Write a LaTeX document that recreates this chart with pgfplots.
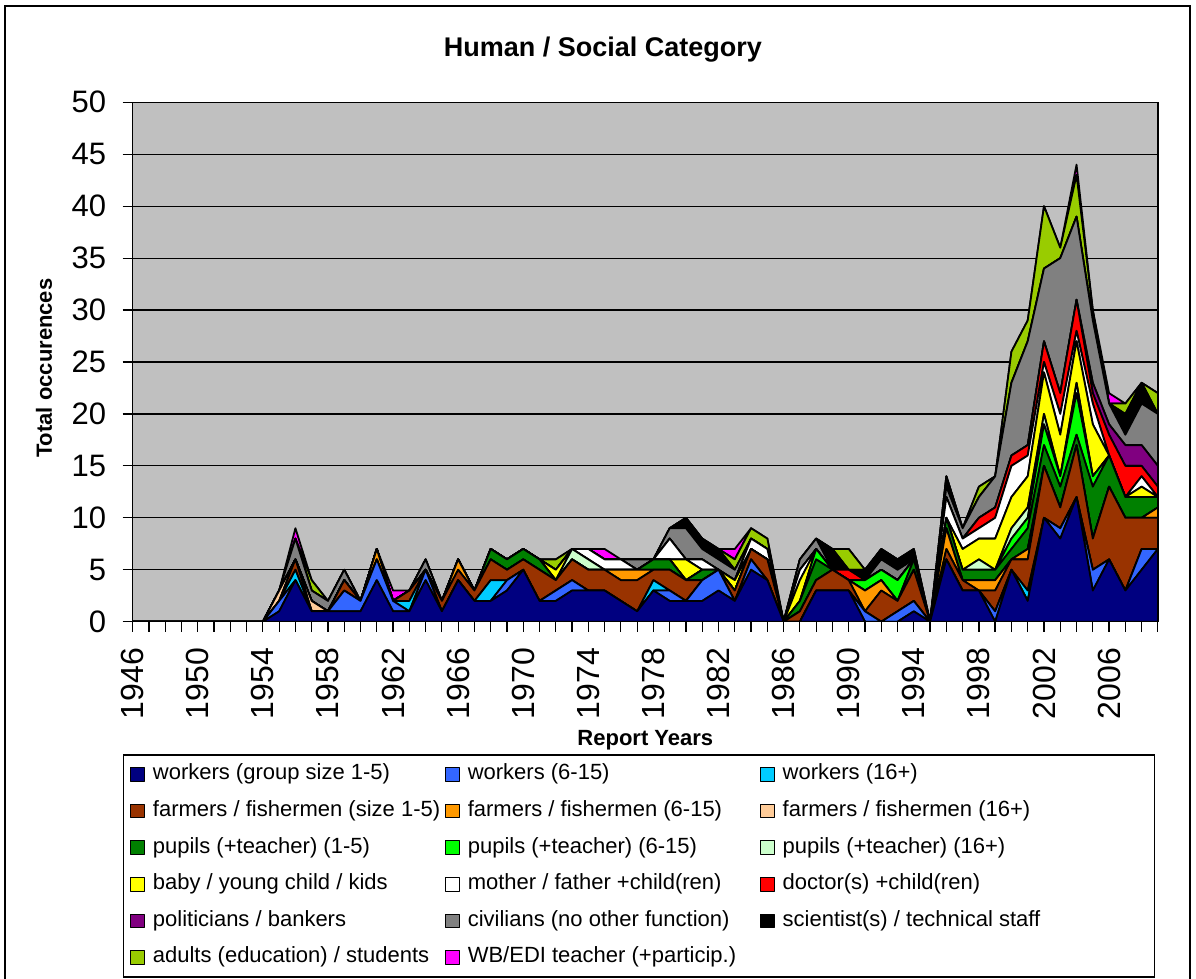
\documentclass[border=0pt]{standalone}
\usepackage{pgfplots}
\pgfplotsset{compat=1.18}
\usepackage{pgfplotstable}
\usepackage{fontspec}
\setmainfont{Liberation Sans}
\definecolor{plotgray}{HTML}{C0C0C0}
\definecolor{cA}{HTML}{000080}
\definecolor{cB}{HTML}{3366FF}
\definecolor{cC}{HTML}{00CCFF}
\definecolor{cD}{HTML}{993300}
\definecolor{cE}{HTML}{FF9900}
\definecolor{cF}{HTML}{FFCC99}
\definecolor{cG}{HTML}{008000}
\definecolor{cH}{HTML}{00FF00}
\definecolor{cI}{HTML}{CCFFCC}
\definecolor{cJ}{HTML}{FFFF00}
\definecolor{cK}{HTML}{FFFFFF}
\definecolor{cL}{HTML}{FF0000}
\definecolor{cM}{HTML}{800080}
\definecolor{cN}{HTML}{808080}
\definecolor{cO}{HTML}{000000}
\definecolor{cP}{HTML}{99CC00}
\definecolor{cQ}{HTML}{FF00FF}
\pgfplotstableread{
year a b c d e f g h i j k l m n o p q
1946 0 0 0 0 0 0 0 0 0 0 0 0 0 0 0 0 0
1947 0 0 0 0 0 0 0 0 0 0 0 0 0 0 0 0 0
1948 0 0 0 0 0 0 0 0 0 0 0 0 0 0 0 0 0
1949 0 0 0 0 0 0 0 0 0 0 0 0 0 0 0 0 0
1950 0 0 0 0 0 0 0 0 0 0 0 0 0 0 0 0 0
1951 0 0 0 0 0 0 0 0 0 0 0 0 0 0 0 0 0
1952 0 0 0 0 0 0 0 0 0 0 0 0 0 0 0 0 0
1953 0 0 0 0 0 0 0 0 0 0 0 0 0 0 0 0 0
1954 0 0 0 0 0 0 0 0 0 0 0 0 0 0 0 0 0
1955 1 1 0 0 0 1 0 0 0 0 0 0 0 0 0 0 0
1956 4 0 1 1 0 0 0 0 0 0 0 0 0 2 0 0 1
1957 1 0 0 0 0 1 0 0 0 0 0 0 0 1 0 1 0
1958 1 0 0 0 0 0 0 0 0 0 0 0 0 1 0 0 0
1959 1 2 0 1 0 0 0 0 0 0 0 0 0 1 0 0 0
1960 1 1 0 0 0 0 0 0 0 0 0 0 0 0 0 0 0
1961 4 2 0 0 1 0 0 0 0 0 0 0 0 0 0 0 0
1962 1 1 0 0 0 0 0 0 0 0 0 0 0 0 0 0 1
1963 1 0 1 1 0 0 0 0 0 0 0 0 0 0 0 0 0
1964 4 1 0 0 0 0 0 0 0 0 0 0 0 1 0 0 0
1965 1 0 0 1 0 0 0 0 0 0 0 0 0 0 0 0 0
1966 4 0 0 1 1 0 0 0 0 0 0 0 0 0 0 0 0
1967 2 0 0 1 0 0 0 0 0 0 0 0 0 0 0 0 0
1968 2 0 2 2 0 0 1 0 0 0 0 0 0 0 0 0 0
1969 3 1 0 1 0 0 1 0 0 0 0 0 0 0 0 0 0
1970 5 0 0 1 0 0 1 0 0 0 0 0 0 0 0 0 0
1971 2 0 0 3 0 0 1 0 0 0 0 0 0 0 0 0 0
1972 2 1 0 1 0 0 0 0 0 1 0 0 0 0 0 1 0
1973 3 1 0 2 0 0 0 0 1 0 0 0 0 0 0 0 0
1974 3 0 0 2 0 0 0 0 1 0 1 0 0 0 0 0 0
1975 3 0 0 2 0 0 0 0 0 0 1 0 0 0 0 0 1
1976 2 0 0 2 1 0 0 0 0 0 1 0 0 0 0 0 0
1977 1 0 0 3 1 0 0 0 0 0 0 0 0 1 0 0 0
1978 3 0 1 1 0 0 1 0 0 0 0 0 0 0 0 0 0
1979 2 1 0 2 0 0 1 0 0 0 2 0 0 1 0 0 0
1980 2 0 0 2 0 0 0 0 0 2 0 0 0 3 1 0 0
1981 2 2 0 0 0 0 1 0 0 0 1 0 0 1 1 0 0
1982 3 2 0 0 0 0 0 0 0 0 0 0 0 1 1 0 0
1983 2 0 0 1 0 0 0 0 0 1 0 0 0 1 0 1 1
1984 5 1 0 1 0 0 0 0 0 0 1 0 0 0 0 1 0
1985 4 0 0 2 0 0 0 0 0 0 1 0 0 0 0 1 0
1986 0 0 0 0 0 0 0 0 0 0 0 0 0 0 0 0 0
1987 0 0 0 1 0 0 1 0 0 2 1 0 0 1 0 0 0
1988 3 0 0 1 0 0 2 1 0 0 0 0 0 1 0 0 0
1989 3 0 0 2 0 0 0 0 0 0 0 0 0 0 2 0 0
1990 3 0 0 1 0 0 0 0 0 0 0 1 0 0 0 2 0
1991 0 1 0 0 2 0 0 1 0 0 0 0 0 0 1 0 0
1992 0 0 0 3 1 0 0 1 0 0 0 0 0 1 1 0 0
1993 0 1 0 1 0 0 0 2 0 0 0 0 0 1 1 0 0
1994 1 1 0 3 0 0 1 0 0 0 0 0 0 0 1 0 0
1995 0 0 0 0 0 0 0 0 0 0 0 0 0 0 0 0 0
1996 6 0 0 1 2 0 1 0 0 0 2 0 0 1 1 0 0
1997 3 0 0 1 0 0 1 0 0 2 1 0 0 1 0 0 0
1998 3 0 0 0 1 0 1 0 1 2 1 1 0 2 0 1 0
1999 0 1 0 2 1 0 1 0 0 3 2 1 0 3 0 0 0
2000 5 0 0 1 0 0 1 1 1 3 3 1 0 7 0 3 0
2001 2 0 1 3 1 0 2 1 1 3 2 1 0 10 0 2 0
2002 10 0 0 5 0 0 2 2 1 4 1 2 0 7 0 6 0
2003 8 1 0 2 0 0 2 1 0 4 2 2 0 13 0 1 0
2004 12 0 0 5 0 0 1 4 1 4 1 3 0 8 0 4 1
2005 3 2 0 3 0 0 5 1 0 5 2 1 1 6 0 1 0
2006 6 0 0 7 0 0 3 0 0 0 0 2 1 2 0 0 1
2007 3 0 0 7 0 0 2 0 0 0 0 3 2 1 2 1 0
2008 5 2 0 3 0 0 2 0 0 1 1 1 2 4 2 0 0
2009 7 0 0 3 1 0 1 0 0 0 0 1 2 5 0 2 0
}\datatable

\newcommand{\lA}[1]{\makebox[288pt][l]{#1}}
\newcommand{\lC}[1]{\makebox[365pt][l]{#1}}

\begin{document}
\begin{tikzpicture}[x=1pt,y=1pt]
\useasboundingbox (0,0) rectangle (1196,978);
\fill[white] (0,0) rectangle (1196,978);
\draw[line width=1.3pt] (5,-10) rectangle (1190,972);
\begin{axis}[
  at={(132.7pt,356.3pt)}, anchor=south west,
  scale only axis, width=1025.3pt, height=519.4pt,
  xmin=1946, xmax=2009, ymin=0, ymax=50,
  stack plots=y,
  axis background/.style={fill=plotgray},
  axis line style={black, line width=1.2pt},
  ytick={0,5,...,50},
  xtick={1946,1950,...,2006},
  minor xtick={1946,1947,...,2009},
  ymajorgrids,
  major grid style={black, line width=1.2pt},
  tick pos=left,
  tick align=outside,
  major tick length=10pt,
  minor tick length=10pt,
  every tick/.style={black, line width=1.2pt},
  tick label style={font=\fontsize{31}{36}\selectfont},
  xticklabel style={font=\fontsize{32}{36}\selectfont},
  /pgf/number format/assume math mode=true,
  /pgf/number format/1000 sep={},
  xticklabel style={rotate=90, anchor=east, inner sep=0pt},
  xticklabel shift=16pt,
  yticklabel style={anchor=east, inner sep=0pt},
  yticklabel shift=16.5pt,
  title={Human / Social Category},
  title style={font=\bfseries\fontsize{27}{32}\selectfont, at={(axis description cs:0.4587,1.089)}, anchor=center},
  xlabel={Report Years},
  xlabel style={font=\bfseries\fontsize{22}{26}\selectfont, at={(axis description cs:0.5,-0.2278)}, anchor=center},
  ylabel={Total occurences},
  ylabel style={font=\bfseries\fontsize{22}{26}\selectfont, at={(axis description cs:-0.0865,0.488)}, anchor=center},
  legend columns=3,
  legend cell align=left,
  legend image code/.code={\draw[#1, line width=0.9pt, draw=black] (0pt,-6.85pt) rectangle (13.7pt,6.85pt);},
  legend style={
    at={(axis description cs:-0.00975,-0.2553)}, anchor=north west,
    draw=black, line width=1.2pt, fill=white,
    inner xsep=7pt, inner ysep=9pt,
    font=\fontsize{22}{26}\selectfont,
    row sep=15.6pt,
    nodes={inner sep=0pt, text height=16pt, text depth=5pt},
    /tikz/every odd column/.append style={column sep=8pt},
    /tikz/every even column/.append style={column sep=4.3pt},
  },
  every axis plot/.append style={draw=black, line width=1.8pt, line join=round},
]
\addplot[fill=cA] table[x=year,y=a]{\datatable} \closedcycle;
\addlegendentry{\lA{workers (group size 1-5)}}
\addplot[fill=cB] table[x=year,y=b]{\datatable} \closedcycle;
\addlegendentry{\lA{workers (6-15)}}
\addplot[fill=cC] table[x=year,y=c]{\datatable} \closedcycle;
\addlegendentry{\lC{workers (16+)}}
\addplot[fill=cD] table[x=year,y=d]{\datatable} \closedcycle;
\addlegendentry{\lA{farmers / fishermen (size 1-5)}}
\addplot[fill=cE] table[x=year,y=e]{\datatable} \closedcycle;
\addlegendentry{\lA{farmers / fishermen (6-15)}}
\addplot[fill=cF] table[x=year,y=f]{\datatable} \closedcycle;
\addlegendentry{\lC{farmers / fishermen (16+)}}
\addplot[fill=cG] table[x=year,y=g]{\datatable} \closedcycle;
\addlegendentry{\lA{pupils (+teacher) (1-5)}}
\addplot[fill=cH] table[x=year,y=h]{\datatable} \closedcycle;
\addlegendentry{\lA{pupils (+teacher) (6-15)}}
\addplot[fill=cI] table[x=year,y=i]{\datatable} \closedcycle;
\addlegendentry{\lC{pupils (+teacher) (16+)}}
\addplot[fill=cJ] table[x=year,y=j]{\datatable} \closedcycle;
\addlegendentry{\lA{baby / young child / kids}}
\addplot[fill=cK] table[x=year,y=k]{\datatable} \closedcycle;
\addlegendentry{\lA{mother / father +child(ren)}}
\addplot[fill=cL] table[x=year,y=l]{\datatable} \closedcycle;
\addlegendentry{\lC{doctor(s) +child(ren)}}
\addplot[fill=cM] table[x=year,y=m]{\datatable} \closedcycle;
\addlegendentry{\lA{politicians / bankers}}
\addplot[fill=cN] table[x=year,y=n]{\datatable} \closedcycle;
\addlegendentry{\lA{civilians (no other function)}}
\addplot[fill=cO] table[x=year,y=o]{\datatable} \closedcycle;
\addlegendentry{\lC{scientist(s) / technical staff}}
\addplot[fill=cP] table[x=year,y=p]{\datatable} \closedcycle;
\addlegendentry{\lA{adults (education) / students}}
\addplot[fill=cQ] table[x=year,y=q]{\datatable} \closedcycle;
\addlegendentry{\lA{WB/EDI teacher (+particip.)}}
\end{axis}
\end{tikzpicture}
\end{document}
